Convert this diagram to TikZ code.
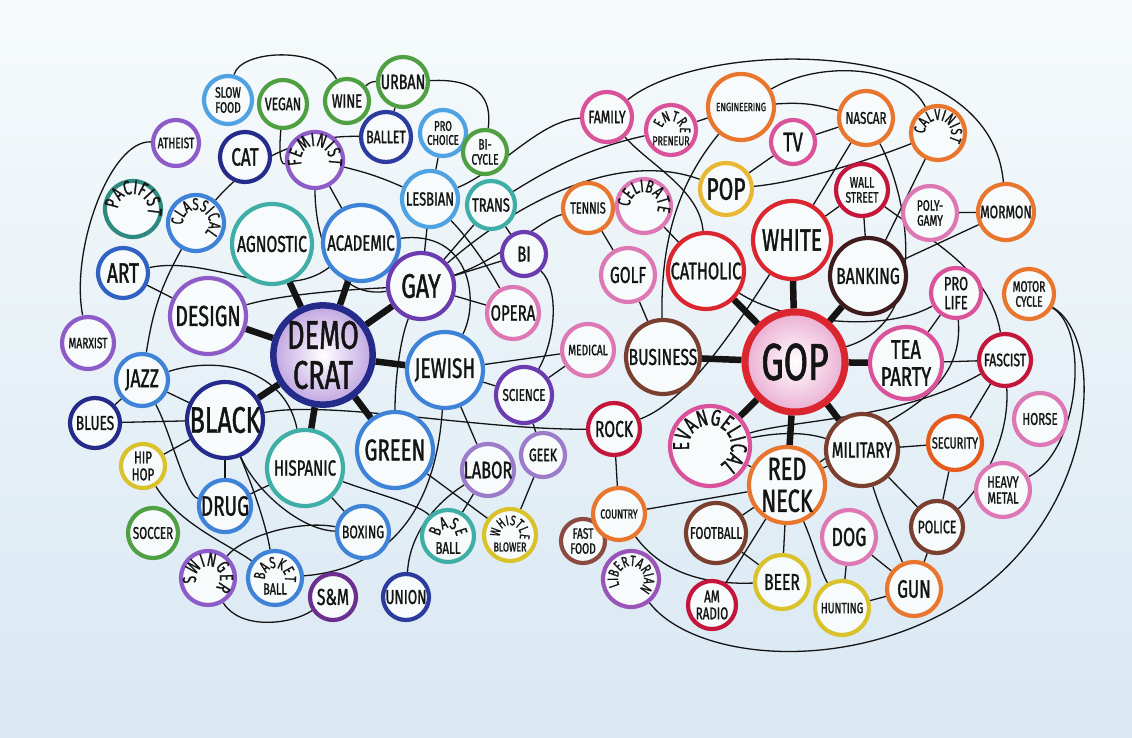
\documentclass[tikz,border=0pt]{standalone}
\usepackage{fontspec}
\newfontfamily\hand[FakeStretch=0.68,FakeBold=1.2]{Fira Sans}
\usetikzlibrary{calc,backgrounds,decorations.text}
\definecolor{paper}{HTML}{F8FBFC}
\definecolor{bgtop}{HTML}{F6FAFB}
\definecolor{bgbot}{HTML}{D9E8F3}
\definecolor{ink}{HTML}{141414}
\definecolor{cblue}{HTML}{3F83D8}
\definecolor{clblue}{HTML}{4FA3E3}
\definecolor{cblue2}{HTML}{2F62C2}
\definecolor{cnavy}{HTML}{252B8A}
\definecolor{cnavy2}{HTML}{2C3C9E}
\definecolor{cpurple}{HTML}{8D5CC8}
\definecolor{cdpurple}{HTML}{6A3CB0}
\definecolor{cdpurple2}{HTML}{6B2F8E}
\definecolor{clpurple}{HTML}{9C7BCB}
\definecolor{cpurple2}{HTML}{9A55B8}
\definecolor{cteal}{HTML}{3FAEA6}
\definecolor{cdteal}{HTML}{2E8A80}
\definecolor{cgreen}{HTML}{4FA043}
\definecolor{cpink}{HTML}{DD78B4}
\definecolor{cpink2}{HTML}{D9529A}
\definecolor{corange}{HTML}{E9762E}
\definecolor{corange2}{HTML}{E65A1E}
\definecolor{cred}{HTML}{DB2630}
\definecolor{ccrimson}{HTML}{C4153A}
\definecolor{cbrown}{HTML}{7B3F30}
\definecolor{cbrown2}{HTML}{8B4A42}
\definecolor{cdbrown}{HTML}{3E1C1E}
\definecolor{cyellow}{HTML}{D9C22C}
\definecolor{cyellow2}{HTML}{E9B833}
\tikzset{
  bub/.style={circle, draw=#1, line width=4.2pt, fill=paper, inner sep=0pt, align=center, text=ink},
  fz/.style={font=\hand\fontsize{#1}{#1}\selectfont},
  link/.style={draw=ink, line width=1.3pt},
  spoke/.style={draw=ink, line width=6.5pt},
  lbl/.style={inner sep=0pt, text=ink, align=center}
}
\newcommand\archtxt[6]{\path[decorate,decoration={text along path,text align=center,text={|\hand\fontsize{#5}{#5}\selectfont\color{ink}|#6}}] ($(#1)+(#3:#2)$) arc[start angle=#3,end angle=#4,radius=#2];}
\begin{document}
\begin{tikzpicture}[x=1pt,y=-1pt]
\useasboundingbox (0,0) rectangle (1132,738);
% ---------- left cluster ----------
\node[bub=clblue, minimum size=48pt, fz=15] (slow) at (228,100) {SLOW\\FOOD};
\node[bub=cgreen, minimum size=48pt, fz=18] (vegan) at (283,104) {VEGAN};
\node[bub=cgreen, minimum size=44pt, fz=19] (wine) at (347,101) {WINE};
\node[bub=cgreen, minimum size=50pt, fz=21] (urban) at (403,82) {URBAN};
\node[bub=cnavy2, minimum size=50pt, fz=18] (ballet) at (386,137) {BALLET};
\node[bub=clblue, minimum size=46pt, fz=14] (choice) at (443,133) {PRO\\CHOICE};
\node[bub=cgreen, minimum size=44pt, fz=15] (bicycle) at (485,152) {BI-\\CYCLE};
\node[bub=cpurple, minimum size=46pt, fz=15] (atheist) at (176,143) {ATHEIST};
\node[bub=cnavy, minimum size=50pt, fz=25] (cat) at (245,157) {CAT};
\node[bub=cpurple, minimum size=56pt] (fem) at (315,160) {};
\node[bub=clblue, minimum size=56pt, fz=19] (lesb) at (430,199) {LESBIAN};
\node[bub=cteal, minimum size=48pt, fz=19] (trans) at (491,205) {TRANS};
\node[bub=cdteal, minimum size=56pt] (pac) at (133,209) {};
\node[bub=cblue, minimum size=56pt] (class) at (196,223) {};
\node[bub=cteal, minimum size=80pt, fz=23] (agn) at (272,244) {AGNOSTIC};
\node[bub=cblue, minimum size=76pt, fz=22] (acad) at (361,243) {ACADEMIC};
\node[bub=cdpurple, minimum size=66pt, fz=34] (gay) at (421,286) {GAY};
\node[bub=cdpurple, minimum size=44pt, fz=22] (bi) at (524,254) {BI};
\node[bub=cblue2, minimum size=50pt, fz=28] (art) at (123,273) {ART};
\node[bub=cpurple, minimum size=76pt, fz=29] (design) at (208,316) {DESIGN};
\node[bub=cpink, minimum size=52pt, fz=22] (opera) at (513,313) {OPERA};
\node[bub=cpurple, minimum size=52pt, fz=15] (marx) at (88,343) {MARXIST};
\node[circle, draw=cnavy, line width=6.5pt, inner color=white, outer color=cpurple!55, inner sep=0pt, align=center, text=ink, minimum size=98pt, fz=40] (dem) at (323,355) {DEMO\\CRAT};
\node[bub=cblue, minimum size=76pt, fz=28] (jew) at (445,370) {JEWISH};
\node[bub=cblue, minimum size=52pt, fz=26] (jazz) at (142,380) {JAZZ};
\node[bub=cdpurple, minimum size=56pt, fz=17] (sci) at (524,395) {SCIENCE};
\node[bub=cpink, minimum size=52pt, fz=15] (med) at (588,350) {MEDICAL};
\node[bub=cnavy, minimum size=50pt, fz=20] (blues) at (95,423) {BLUES};
\node[bub=cnavy, minimum size=76pt, fz=37] (black) at (225,420) {BLACK};
\node[bub=cblue, minimum size=76pt, fz=30] (green) at (395,450) {GREEN};
\node[bub=cteal, minimum size=76pt, fz=22] (hisp) at (305,468) {HISPANIC};
\node[bub=clpurple, minimum size=44pt, fz=18] (geek) at (543,455) {GEEK};
\node[bub=clpurple, minimum size=52pt, fz=24] (labor) at (488,470) {LABOR};
\node[bub=cyellow, minimum size=44pt, fz=17] (hiphop) at (143,466) {HIP\\HOP};
\node[bub=cblue, minimum size=52pt, fz=28] (drug) at (225,506) {DRUG};
\node[bub=cblue, minimum size=52pt, fz=18] (boxing) at (363,532) {BOXING};
\node[bub=cteal, minimum size=52pt] (baseb) at (448,536) {};
\node[bub=cyellow, minimum size=52pt] (whistle) at (510,535) {};
\node[bub=cgreen, minimum size=50pt, fz=17] (soccer) at (153,533) {SOCCER};
\node[bub=cpurple, minimum size=54pt] (swing) at (208,578) {};
\node[bub=cblue, minimum size=54pt] (bask) at (275,578) {};
\node[bub=cdpurple2, minimum size=46pt, fz=23] (sm) at (333,597) {S\&M};
\node[bub=cnavy2, minimum size=46pt, fz=20] (union) at (406,597) {UNION};
\node[bub=cbrown2, minimum size=44pt, fz=15] (fast) at (583,541) {FAST\\FOOD};
% ---------- right cluster ----------
\node[bub=cpink2, minimum size=50pt, fz=18] (fam) at (607,117) {FAMILY};
\node[bub=cpink2, minimum size=50pt] (entre) at (671,130) {};
\node[bub=corange, minimum size=66pt, fz=12] (eng) at (741,107) {ENGINEERING};
\node[bub=corange, minimum size=54pt, fz=17] (nascar) at (866,118) {NASCAR};
\node[bub=cpink2, minimum size=44pt, fz=27] (tv) at (793,142) {TV};
\node[bub=corange, minimum size=54pt] (calv) at (938,133) {};
\node[bub=cyellow2, minimum size=52pt, fz=31] (pop) at (726,189) {POP};
\node[bub=ccrimson, minimum size=52pt, fz=15] (wall) at (862,190) {WALL\\STREET};
\node[bub=corange, minimum size=50pt, fz=16] (tennis) at (588,208) {TENNIS};
\node[bub=cpink, minimum size=54pt] (celib) at (644,206) {};
\node[bub=cpink, minimum size=54pt, fz=15] (poly) at (930,213) {POLY-\\GAMY};
\node[bub=corange, minimum size=56pt, fz=18] (mormon) at (1006,212) {MORMON};
\node[bub=cred, minimum size=78pt, fz=31] (white) at (792,240) {WHITE};
\node[bub=cred, minimum size=76pt, fz=24] (cath) at (706,271) {CATHOLIC};
\node[bub=cdbrown, minimum size=76pt, fz=23] (bank) at (868,276) {BANKING};
\node[bub=cpink, minimum size=54pt, fz=23] (golf) at (628,275) {GOLF};
\node[bub=cpink2, minimum size=50pt, fz=19] (prolife) at (956,293) {PRO\\LIFE};
\node[bub=corange, minimum size=50pt, fz=15] (motor) at (1029,294) {MOTOR\\CYCLE};
\node[bub=cbrown, minimum size=74pt, fz=23] (bus) at (663,357) {BUSINESS};
\node[circle, draw=cred, line width=7pt, inner color=white, outer color=cpink!60, inner sep=0pt, text=ink, minimum size=100pt, fz=52] (gop) at (795,362) {GOP};
\node[bub=cpink2, minimum size=72pt, fz=27] (tea) at (906,363) {TEA\\PARTY};
\node[bub=ccrimson, minimum size=52pt, fz=18] (fascist) at (1005,360) {FASCIST};
\node[bub=ccrimson, minimum size=52pt, fz=23] (rock) at (614,429) {ROCK};
\node[bub=cpink2, minimum size=80pt] (evan) at (710,446) {};
\node[bub=cbrown, minimum size=72pt, fz=22] (mil) at (862,450) {MILITARY};
\node[bub=corange2, minimum size=54pt, fz=16] (sec) at (955,443) {SECURITY};
\node[bub=cpink, minimum size=52pt, fz=17] (horse) at (1040,419) {HORSE};
\node[bub=corange, minimum size=76pt, fz=32] (red) at (787,485) {RED\\NECK};
\node[bub=cpink, minimum size=54pt, fz=16] (heavy) at (1003,490) {HEAVY\\METAL};
\node[bub=corange, minimum size=52pt, fz=13] (country) at (619,514) {COUNTRY};
\node[bub=cbrown, minimum size=52pt, fz=18] (police) at (937,527) {POLICE};
\node[bub=cbrown, minimum size=60pt, fz=17] (foot) at (716,533) {FOOTBALL};
\node[bub=cpink, minimum size=54pt, fz=26] (dog) at (849,537) {DOG};
\node[bub=cpurple2, minimum size=56pt] (lib) at (631,579) {};
\node[bub=cyellow, minimum size=54pt, fz=23] (beer) at (782,582) {BEER};
\node[bub=ccrimson, minimum size=48pt, fz=17] (am) at (712,605) {AM\\RADIO};
\node[bub=cyellow, minimum size=54pt, fz=15] (hunt) at (842,608) {HUNTING};
\node[bub=corange, minimum size=54pt, fz=25] (gun) at (914,589) {GUN};
\coordinate (w1) at (930,620);
% ---------- arched texts ----------
\archtxt{fem}{14}{-250}{70}{19}{FEMINIST}
\archtxt{pac}{15}{-240}{80}{20}{PACIFIST}
\archtxt{class}{13}{-230}{90}{17}{CLASSICAL}
\archtxt{celib}{14}{-240}{80}{18}{CELIBATE}
\archtxt{calv}{13}{-235}{85}{16}{CALVINIST}
\archtxt{evan}{21}{-225}{95}{23}{EVANGELICAL}
\archtxt{lib}{13}{-240}{80}{15}{LIBERTARIAN}
\archtxt{swing}{12}{-235}{85}{19}{SWINGER}
\archtxt{entre}{9}{-235}{85}{15}{ENTRE}
\archtxt{bask}{10}{-245}{75}{16}{BASKET}
\archtxt{baseb}{8}{-250}{70}{17}{BASE}
\archtxt{whistle}{10}{-245}{75}{14}{WHISTLE}
\node[lbl, fz=13] (entre-b) at ($(entre)+(0,11)$) {PRENEUR};
\node[lbl, fz=16] (bask-b) at ($(bask)+(0,11)$) {BALL};
\node[lbl, fz=17] (baseb-b) at ($(baseb)+(0,12)$) {BALL};
\node[lbl, fz=13] (whistle-b) at ($(whistle)+(0,12)$) {BLOWER};
% ---------- connectors ----------
\begin{pgfonlayer}{background}
\shade[top color=bgtop, bottom color=bgbot] (0,0) rectangle (1132,738);
% spokes
\foreach \n in {agn,acad,gay,design,jew,black,hisp,green} \draw[spoke] (dem) -- (\n);
\foreach \n in {cath,white,bank,bus,tea,evan,red,mil} \draw[spoke] (gop) -- (\n);
% left links
\draw[link] (atheist) .. controls (110,140) and (70,250) .. (marx);
\draw[link] (slow) .. controls (240,50) and (320,45) .. (wine);
\draw[link] (wine) to[bend left=20] (urban);
\draw[link] (urban) -- (ballet);
\draw[link] (urban) .. controls (480,78) and (492,100) .. (bicycle);
\draw[link] (ballet) .. controls (300,135) and (250,160) .. (class);
\draw[link] (vegan) .. controls (280,140) and (278,165) .. (fem);
\draw[link] (choice) -- (lesb);
\draw[link] (fem) to[bend left=5] (lesb);
\draw[link] (fem) -- (acad);
\draw[link] (fem) .. controls (315,230) and (330,300) .. (gay);
\draw[link] (lesb) -- (gay);
\draw[link] (lesb) .. controls (500,170) and (540,120) .. (fam);
\draw[link] (lesb) .. controls (470,240) and (490,270) .. (opera);
\draw[link] (trans) -- (gay);
\draw[link] (trans) -- (bi);
\draw[link] (trans) .. controls (540,175) and (580,150) .. (entre);
\draw[link] (gay) -- (bi);
\draw[link] (gay) -- (opera);
\draw[link] (gay) .. controls (520,200) and (620,150) .. (pop);
\draw[link] (gay) .. controls (500,260) and (540,220) .. (tennis);
\draw[link] (acad) .. controls (470,230) and (480,300) .. (jew);
\draw[link] (bi) .. controls (560,290) and (555,340) .. (sci);
\draw[link] (class) to[bend right=10] (jazz);
\draw[link] (art) -- (design);
\draw[link] (art) .. controls (210,255) and (280,305) .. (acad);
\draw[link] (design) .. controls (280,295) and (340,290) .. (gay);
\draw[link] (jazz) -- (blues);
\draw[link] (jazz) -- (black);
\draw[link] (jazz) .. controls (220,355) and (285,370) .. (hisp);
\draw[link] (jazz) .. controls (170,430) and (185,495) .. (drug);
\draw[link] (blues) -- (black);
\draw[link] (hiphop) -- (black);
\draw[link] (hiphop) .. controls (180,525) and (230,545) .. (bask);
\draw[link] (black) -- (drug);
\draw[link] (black) .. controls (250,480) and (265,520) .. (bask);
\draw[link] (black) .. controls (255,490) and (300,530) .. (boxing);
\draw[link] (drug) -- (hisp);
\draw[link] (hisp) -- (boxing);
\draw[link] (hisp) .. controls (380,495) and (420,505) .. (baseb);
\draw[link] (swing) .. controls (245,535) and (300,520) .. (boxing);
\draw[link] (swing) .. controls (240,630) and (290,625) .. (sm);
\draw[link] (bask) .. controls (380,570) and (435,520) .. (jew);
\draw[link] (union) .. controls (410,530) and (440,500) .. (labor);
\draw[link] (baseb) -- (labor);
\draw[link] (labor) -- (jew);
\draw[link] (green) -- (whistle);
\draw[link] (geek) -- (whistle);
\draw[link] (geek) -- (sci);
\draw[link] (jew) -- (sci);
\draw[link] (jew) -- (med);
\draw[link] (sci) -- (med);
\draw[link] (gay) .. controls (400,340) and (395,380) .. (green);
\draw[link] (black) .. controls (330,400) and (480,430) .. (rock);
% right links
\draw[link] (fam) .. controls (700,40) and (990,30) .. (mormon);
\draw[link] (eng) .. controls (820,60) and (905,65) .. (calv);
\draw[link] (eng) to[bend left=10] (nascar);
\draw[link] (entre) -- (eng);
\draw[link] (fam) .. controls (650,165) and (700,190) .. (cath);
\draw[link] (eng) .. controls (685,175) and (660,230) .. (bus);
\draw[link] (celib) -- (cath);
\draw[link] (tennis) -- (golf);
\draw[link] (golf) -- (bus);
\draw[link] (pop) -- (tv);
\draw[link] (tv) -- (nascar);
\draw[link] (pop) .. controls (800,182) and (870,160) .. (calv);
\draw[link] (nascar) -- (white);
\draw[link] (wall) -- (white);
\draw[link] (wall) -- (bank);
\draw[link] (calv) -- (bank);
\draw[link] (mormon) -- (bank);
\draw[link] (poly) -- (mormon);
\draw[link] (wall) .. controls (930,240) and (990,270) .. (fascist);
\draw[link] (nascar) .. controls (905,190) and (935,320) .. (gop);
\draw[link] (cath) .. controls (780,320) and (880,335) .. (prolife);
\draw[link] (rock) .. controls (690,400) and (740,320) .. (white);
\draw[link] (prolife) -- (tea);
\draw[link] (tea) -- (fascist);
\draw[link] (red) .. controls (880,420) and (965,400) .. (prolife);
\draw[link] (evan) .. controls (790,420) and (900,420) .. (fascist);
\draw[link] (evan) .. controls (780,432) and (805,432) .. (mil);
\draw[link] (evan) -- (red);
\draw[link] (red) -- (mil);
\draw[link] (fascist) -- (sec);
\draw[link] (fascist) .. controls (1010,440) and (980,490) .. (police);
\draw[link] (mil) -- (sec);
\draw[link] (mil) -- (police);
\draw[link] (mil) .. controls (880,510) and (895,545) .. (gun);
\draw[link] (sec) -- (police);
\draw[link] (police) -- (gun);
\draw[link] (dog) -- (gun);
\draw[link] (dog) -- (hunt);
\draw[link] (hunt) -- (gun);
\draw[link] (red) -- (foot);
\draw[link] (red) -- (beer);
\draw[link] (red) -- (am);
\draw[link] (red) .. controls (812,540) and (820,570) .. (hunt);
\draw[link] (foot) -- (beer);
\draw[link] (country) -- (red);
\draw[link] (country) .. controls (660,570) and (700,585) .. (beer);
\draw[link] (rock) -- (country);
\draw[link] (motor) .. controls (1090,330) and (1080,450) .. (heavy);
\draw[link] (motor) .. controls (1110,340) and (1100,540) .. (w1) .. controls (820,672) and (690,655) .. (lib);
\end{pgfonlayer}
\end{tikzpicture}
\end{document}
